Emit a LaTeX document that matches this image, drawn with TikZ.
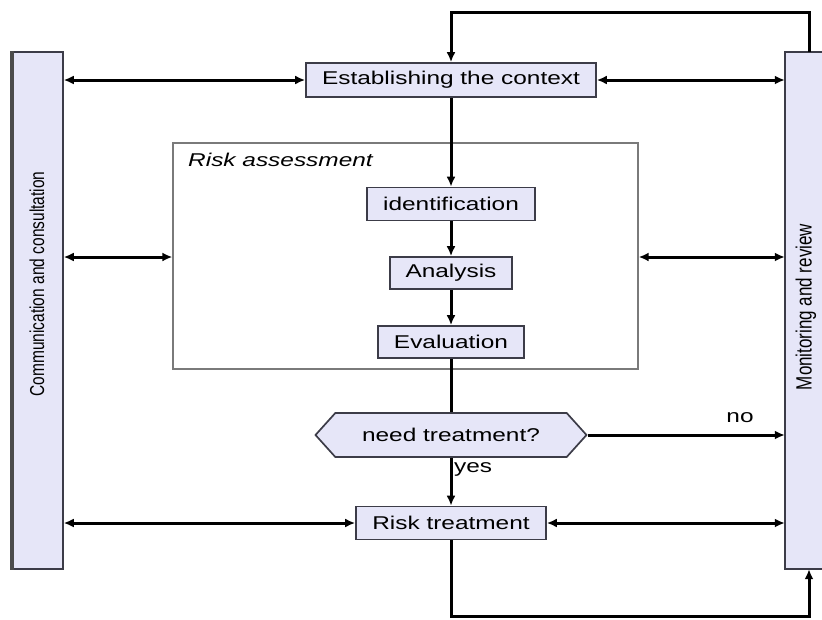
\documentclass[tikz,border=0pt]{standalone}
\usepackage{fontspec}
\setmainfont{Liberation Sans}
\newfontfamily\widefont[FakeStretch=1.32]{Liberation Sans}
\usetikzlibrary{arrows.meta,shapes.symbols}
\definecolor{boxfill}{HTML}{E6E6F8}
\definecolor{boxline}{HTML}{3C3C48}
\definecolor{framegray}{HTML}{7A7A7A}
\tikzset{
  stepbox/.style={draw=boxline, line width=1.7pt, fill=boxfill, inner sep=0pt,
    font=\widefont\fontsize{18.5}{20}\selectfont},
  conn/.style={line width=3pt, black},
  tip/.style={-{Latex[length=10pt,width=9pt]}},
  bitip/.style={{Latex[length=10pt,width=9pt]}-{Latex[length=10pt,width=9pt]}},
  lbl/.style={font=\widefont\fontsize{18.5}{20}\selectfont, inner sep=0pt}
}
\begin{document}
\begin{tikzpicture}[x=1pt,y=-1pt]
\useasboundingbox (0,0) rectangle (822,619);

% side bars
\node[draw=boxline, line width=1.5pt, fill=boxfill, inner sep=0pt,
  minimum width=50, minimum height=517] (lb) at (38,310.5) {};
\draw[line width=4pt, black!70] (lb.north west) -- (lb.south west);
\node[rotate=90, font=\fontsize{15.5}{17}\selectfont] (lbt) at (37,284)
  {\scalebox{1}[1.3]{Communication and consultation}};

\node[fill=boxfill, inner sep=0pt, minimum width=37, minimum height=517] (rb) at (803.5,310.5) {};
\draw[boxline, line width=1.5pt] (rb.north east) -- (rb.north west) -- (rb.south west) -- (rb.south east);
\node[rotate=90, font=\fontsize{17}{19}\selectfont] (rbt) at (806,307)
  {\scalebox{1}[1.3]{Monitoring and review}};

% risk assessment frame
\node[draw=framegray, line width=1.3pt, fill=white, inner sep=0pt,
  minimum width=465, minimum height=226] (ra) at (405.5,256) {};
\node[lbl, anchor=base west] (ralbl) at (188,166) {\itshape Risk assessment};

% process boxes
\node[stepbox, minimum width=290, minimum height=34] (ctx) at (451,80) {Establishing the context};
\node[stepbox, minimum width=168, minimum height=33] (ident) at (451,204) {identification};
\node[stepbox, minimum width=122, minimum height=32] (anal) at (451,273) {Analysis};
\node[stepbox, minimum width=146, minimum height=32] (eval) at (451,342) {Evaluation};
\node[stepbox, shape=signal, signal to=west and east, signal pointer angle=96,
  minimum width=271, minimum height=44] (dec) at (451,435) {need treatment?};
\node[stepbox, minimum width=190, minimum height=33] (treat) at (451,523) {Risk treatment};

% loop coordinates
\coordinate (tl) at (451,12);
\coordinate (tr) at (809,12);
\coordinate (bl) at (451,616);
\coordinate (br) at (809,616);

% vertical flow
\draw[conn, tip] (ctx.south) -- (ident.north);
\draw[conn, tip] (ident.south) -- (anal.north);
\draw[conn, tip] (anal.south) -- (eval.north);
\draw[conn] (eval.south) -- (dec.north);
\draw[conn, tip] (dec.south) -- (treat.north);
\node[lbl, anchor=west] (yes) at (454,469) {yes};

% top loop
\draw[conn, tip, line join=miter] (rb.north -| tr) -- (tr) -- (tl) -- (ctx.north);
% bottom loop
\draw[conn, tip, line join=miter] (treat.south) -- (bl) -- (br) -- (rb.south -| br);

% horizontal links
\draw[conn, bitip] (lb.east |- ctx.west) -- (ctx.west);
\draw[conn, bitip] (ctx.east) -- (rb.west |- ctx.east);
\draw[conn, bitip] (lb.east |- 0,257) -- (ra.west |- 0,257);
\draw[conn, bitip] (ra.east |- 0,257) -- (rb.west |- 0,257);
\draw[conn, tip] (dec.east) -- (rb.west |- dec.east);
\node[lbl] (no) at (740,418) {no};
\draw[conn, bitip] (lb.east |- treat.west) -- (treat.west);
\draw[conn, bitip] (treat.east) -- (rb.west |- treat.east);
\end{tikzpicture}
\end{document}
